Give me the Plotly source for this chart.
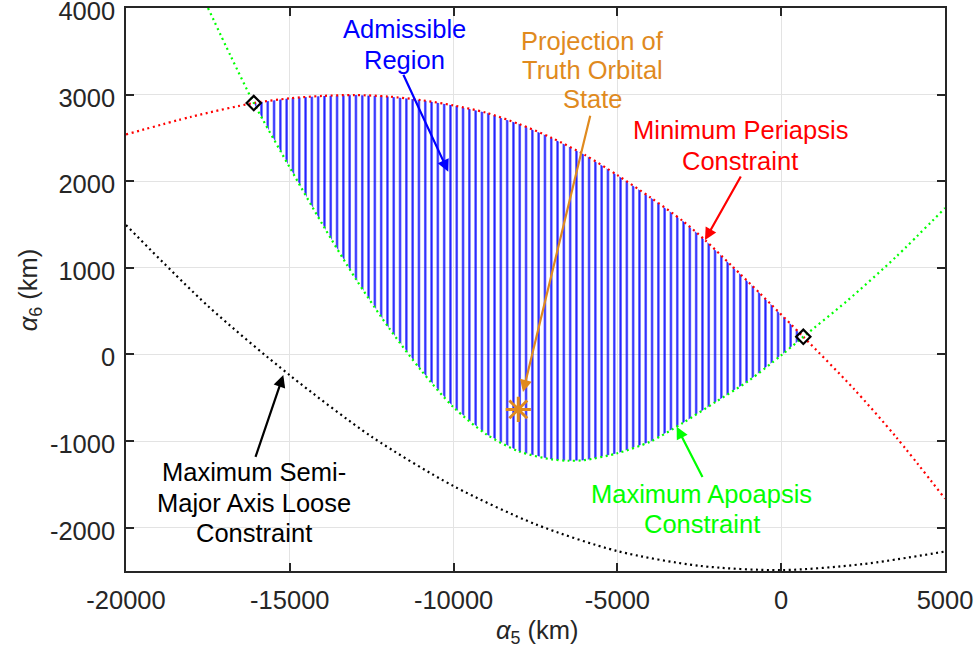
import plotly.graph_objects as go

# ---------------- data ----------------
# Minimum periapsis constraint (red)
red_x = [-20000, -18000, -16100, -15000, -14000, -13000, -12000, -11000, -10000, -9000,
         -8000, -7000, -6000, -5000, -4000, -3000, -2326, -1500, -647, 675, 2202, 3500, 5000]
red_y = [2540, 2745, 2903, 2957, 2985, 2995, 2978, 2937, 2875, 2790,
         2660, 2500, 2305, 2070, 1815, 1540, 1321, 1020, 705, 204, -391, -950, -1665]

# Maximum apoapsis constraint (green)
green_x = [-17497, -16800, -16100, -15000, -14000, -13000, -12000, -11000, -10000, -9000,
           -8000, -7000, -6500, -6000, -5000, -4000, -3000, -2000, -1000, 0, 675, 2000, 3500, 5000]
green_y = [4000, 3442, 2903, 2158, 1500, 880, 320, -180, -610, -922,
           -1120, -1212, -1227, -1220, -1140, -1007, -790, -548, -306, -10, 204, 615, 1125, 1690]

# Maximum semi-major axis loose constraint (black)
black_x = [-20000, -17500, -15000, -12500, -10000, -7500, -5000, -2500, 0, 2500, 5000]
black_y = [1494, 560, -240, -950, -1520, -1960, -2270, -2440, -2490, -2420, -2275]

# Intersection points (diamonds)
diamond_x = [-16100, 675]
diamond_y = [2903, 204]

# Projection of truth orbital state
truth_x = [-8025]
truth_y = [-634]

x_tickvals = [-20000, -15000, -10000, -5000, 0, 5000]
x_ticktext = ["-20000", "-15000", "-10000", "-5000", "0", "5000"]
y_tickvals = [-2000, -1000, 0, 1000, 2000, 3000, 4000]
y_ticktext = ["-2000", "-1000", "0", "1000", "2000", "3000", "4000"]

# ---------------- styles ----------------
FONT = "Liberation Sans, Arial, sans-serif"
FS = 25.5
AXC = "#262626"
BLUE = "#0000FF"
RED = "#FF0000"
GREEN = "#00FF00"
ORANGE = "#E08A1E"

fig = go.Figure()

# admissible region (between red and green, bounded by the two intersections)
lo, hi = min(diamond_x), max(diamond_x)
top = [(x, y) for x, y in zip(red_x, red_y) if lo <= x <= hi]
bot = [(x, y) for x, y in zip(green_x, green_y) if lo <= x <= hi]
poly = top + bot[::-1]
fig.add_trace(go.Scatter(
    x=[p[0] for p in poly], y=[p[1] for p in poly],
    mode="lines", line=dict(width=0, color="rgba(0,0,0,0)"),
    fill="toself", fillcolor="rgba(0,0,0,0)",
    fillpattern=dict(shape="|", size=6.3, solidity=0.34, fgcolor=BLUE,
                     fgopacity=0.88, bgcolor="rgba(0,0,0,0)"),
    hoverinfo="skip", showlegend=False))

for xs, ys, c in [(red_x, red_y, RED), (green_x, green_y, GREEN), (black_x, black_y, "#000000")]:
    fig.add_trace(go.Scatter(
        x=xs, y=ys, mode="lines",
        line=dict(color=c, width=2.2, dash="2px,3.5px", shape="spline", smoothing=0.8),
        showlegend=False, hoverinfo="skip"))

fig.add_trace(go.Scatter(
    x=diamond_x, y=diamond_y, mode="markers",
    marker=dict(symbol="diamond-open", size=11, color="#000000", line=dict(width=2.2, color="#000000")),
    showlegend=False))

fig.add_trace(go.Scatter(
    x=truth_x, y=truth_y, mode="markers",
    marker=dict(symbol="asterisk-open", size=21, color=ORANGE, line=dict(width=3, color=ORANGE)),
    showlegend=False))

# ---------------- arrows ----------------
arrows = [
    # (tail x, tail y, tip x, tip y, color)
    (-11554, 3246, -10162, 2110, BLUE),
    (-5818, 2773, -7882, -434, ORANGE),
    (-1208, 2072, -2326, 1321, RED),
    (-2379, -1431, -3191, -835, GREEN),
    (-16062, -1200, -15198, -238, "#000000"),
]
for ax_, ay_, x_, y_, c in arrows:
    fig.add_annotation(x=x_, y=y_, ax=ax_, ay=ay_, xref="x", yref="y", axref="x", ayref="y",
                       text="", showarrow=True, arrowhead=2, arrowsize=1.1, arrowwidth=2.2,
                       arrowcolor=c)

# ---------------- labels ----------------
labels = [
    ("Admissible", -11514, 3758, BLUE),
    ("Region", -11514, 3394, BLUE),
    ("Projection of", -5760, 3619, ORANGE),
    ("Truth Orbital", -5760, 3284, ORANGE),
    ("State", -5760, 2944, ORANGE),
    ("Minimum Periapsis", -1250, 2591, RED),
    ("Constraint", -1250, 2239, RED),
    ("Maximum Apoapsis", -2418, -1611, GREEN),
    ("Constraint", -2418, -1957, GREEN),
    ("Maximum Semi-", -16100, -1357, "#000000"),
    ("Major Axis Loose", -16100, -1715, "#000000"),
    ("Constraint", -16100, -2056, "#000000"),
]
for t, x_, y_, c in labels:
    fig.add_annotation(x=x_, y=y_, xref="x", yref="y", text=t, showarrow=False,
                       xanchor="center", yanchor="middle",
                       font=dict(family=FONT, size=FS, color=c))

# axis titles
fig.add_annotation(x=0.502, y=-0.108, xref="paper", yref="paper",
                   text="<i>α</i><sub>5</sub> (km)", showarrow=False,
                   xanchor="center", yanchor="middle",
                   font=dict(family=FONT, size=FS, color=AXC))
fig.add_annotation(x=-0.117, y=0.499, xref="paper", yref="paper",
                   text="<i>α</i><sub>6</sub> (km)", showarrow=False, textangle=-90,
                   xanchor="center", yanchor="middle",
                   font=dict(family=FONT, size=FS, color=AXC))

axis_common = dict(showgrid=True, gridcolor="#E3E3E3", gridwidth=1, zeroline=False,
                   showline=True, linecolor=AXC, linewidth=1.5, mirror="ticks",
                   ticks="inside", ticklen=8, tickwidth=1.5, tickcolor=AXC,
                   automargin=False, ticklabeloverflow="allow",
                   tickfont=dict(family=FONT, size=FS, color=AXC))

fig.update_xaxes(range=[-20000, 5000], tickvals=x_tickvals, ticktext=x_ticktext,
                 ticklabelstandoff=6, **axis_common)
fig.update_yaxes(range=[-2500, 4000], tickvals=y_tickvals, ticktext=y_ticktext,
                 ticklabelstandoff=4, ticklabelshift=3, **axis_common)

fig.update_layout(width=976, height=657, autosize=False,
                  margin=dict(l=126, r=31, t=8, b=86),
                  paper_bgcolor="white", plot_bgcolor="white",
                  showlegend=False, font=dict(family=FONT, size=FS, color=AXC))

fig.write_html("out.html")
